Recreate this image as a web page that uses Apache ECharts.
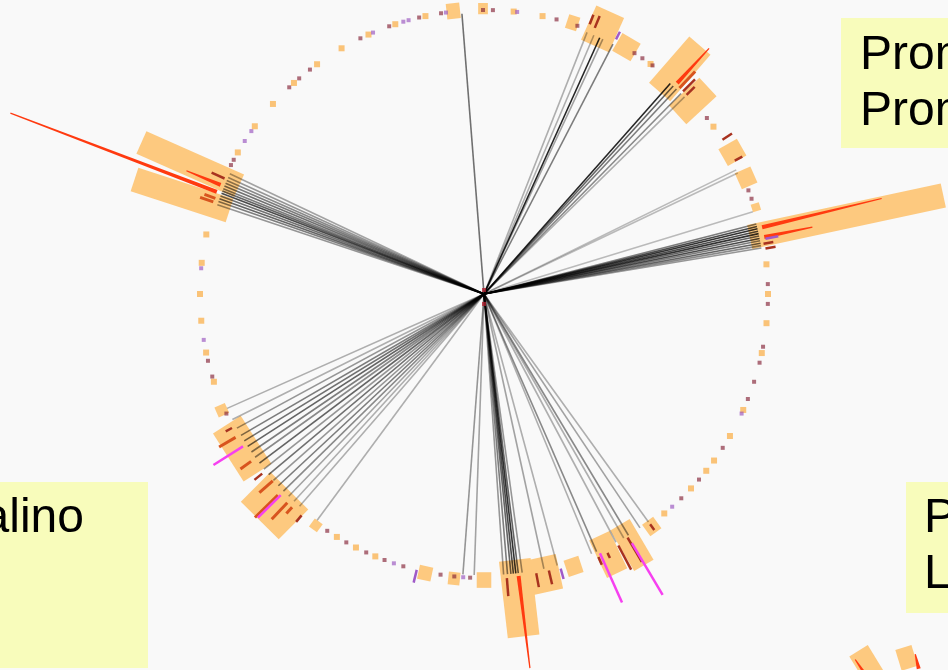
<!DOCTYPE html>
<html>
<head>
<meta charset="utf-8">
<script src="https://cdn.jsdelivr.net/npm/echarts@6/dist/echarts.min.js"></script>
<style>
  html, body { margin: 0; padding: 0; background: #f9f9f9; }
  #chart { width: 948px; height: 670px; }
</style>
</head>
<body>
<div id="chart"></div>
<script>
// Angles are degrees clockwise from the top of the ring; radial values are
// track units where 100 is the ring itself.

// Feature markers sitting on the ring: [angle, kind]
const ringDots = [
  [1.8, 'r'], [6.0, 'o'], [6.7, 'p'], [11.9, 'o'], [14.8, 'r'], [19.2, 'r'],
  [32.0, 'r'], [33.9, 'r'], [35.9, 'o'], [36.4, 'r'], [51.7, 'r'], [53.9, 'o'],
  [68.6, 'r'], [70.4, 'r'],
  [84.0, 'o'], [88.0, 'r'], [90.0, 'o'], [92.0, 'r'], [95.9, 'o'], [100.7, 'r'],
  [102.0, 'o'], [104.0, 'r'], [108.0, 'r'], [111.7, 'r'], [114.1, 'o'], [114.9, 'p'],
  [120.0, 'o'], [122.8, 'r'], [125.9, 'o'], [128.5, 'o'], [130.8, 'r'], [133.2, 'o'],
  [136.0, 'r'], [138.5, 'p'], [140.6, 'o'],
  [182.8, 'r'], [184.2, 'p'], [186.0, 'r'], [188.8, 'r'], [196.5, 'r'], [198.5, 'p'],
  [200.5, 'r'], [202.5, 'o'], [204.5, 'r'], [206.8, 'o'], [209.0, 'r'], [211.2, 'o'],
  [213.5, 'r'], [245.1, 'r'],
  [252.0, 'o'], [253.1, 'r'], [256.4, 'r'], [258.1, 'o'], [260.7, 'p'], [264.6, 'o'],
  [270.0, 'o'], [275.2, 'p'], [276.3, 'o'], [282.1, 'o'],
  [297.0, 'r'], [298.2, 'r'], [299.9, 'o'], [302.6, 'p'], [305.0, 'p'], [306.2, 'o'],
  [312.0, 'o'], [316.7, 'r'], [318.0, 'o'], [319.4, 'r'], [322.2, 'r'], [324.0, 'o'],
  [329.9, 'o'], [334.2, 'r'], [336.0, 'o'], [337.0, 'p'], [340.5, 'r'], [341.8, 'o'],
  [343.5, 'p'], [344.6, 'p'], [346.8, 'r'], [348.1, 'o'], [351.3, 'r'], [352.3, 'p'],
  [359.8, 'r']
];

// Highlighted regions: [startAngle, endAngle, innerRadius, outerRadius]
const regionBoxes = [
  [352.4, 355.2, 97.5, 103.0],
  [358.8, 360.8, 98.5, 102.5],
  [16.9, 19.3, 98.0, 103.0],
  [20.9, 27.3, 95.8, 109.0],
  [27.8, 32.2, 96.8, 104.0],
  [38.0, 44.0, 94.4, 116.0],
  [44.5, 50.0, 93.0, 107.5],
  [58.3, 62.3, 97.0, 104.5],
  [64.3, 67.9, 98.0, 104.0],
  [71.5, 73.1, 99.0, 102.0],
  [75.3, 80.5, 95.8, 165.5],
  [142.8, 145.6, 98.5, 103.5],
  [147.1, 151.9, 94.4, 111.0],
  [152.1, 156.9, 94.4, 109.0],
  [160.2, 163.4, 98.0, 104.0],
  [164.6, 171.0, 95.0, 107.4],
  [170.0, 176.8, 94.4, 121.5],
  [178.5, 181.5, 98.0, 103.5],
  [184.8, 187.2, 98.5, 103.0],
  [190.5, 193.3, 98.0, 103.0],
  [215.0, 217.0, 99.0, 102.5],
  [219.2, 230.2, 97.9, 112.7],
  [231.4, 243.4, 95.8, 107.4],
  [245.0, 247.2, 99.0, 103.0],
  [285.5, 290.8, 94.4, 129.6],
  [291.2, 296.5, 94.4, 132.0]
];

// Signal bars rising from the ring: [angle, innerRadius, outerRadius, kind]
const signalBars = [
  [21.4, 102.0, 105.6, 'dark'], [22.6, 101.5, 106.0, 'dark'], [27.4, 101.0, 104.0, 'purple'],
  [42.5, 100.7, 117.3, 'red'], [43.5, 100.0, 108.0, 'orange'], [44.5, 100.0, 106.0, 'dark'],
  [45.5, 100.0, 104.0, 'dark'],
  [57.1, 100.0, 104.0, 'dark'], [62.0, 100.0, 103.0, 'dark'],
  [76.5, 100.7, 144.0, 'red'], [78.5, 100.7, 118.0, 'red'], [78.9, 101.0, 105.6, 'purple'],
  [79.8, 100.0, 103.5, 'dark'], [80.8, 100.4, 104.0, 'dark'],
  [144.2, 100.0, 102.5, 'dark'], [149.5, 99.6, 109.5, 'dark'], [151.9, 100.4, 110.0, 'dark'],
  [154.5, 101.0, 103.0, 'dark'], [156.5, 101.0, 104.0, 'dark'],
  [149.3, 102.0, 123.2, 'magenta'], [155.9, 100.0, 119.0, 'magenta'],
  [164.4, 100.4, 104.2, 'purple'], [166.8, 100.0, 105.0, 'dark'], [169.4, 100.0, 105.0, 'dark'],
  [173.0, 100.0, 132.7, 'red'], [175.4, 100.4, 106.7, 'dark'], [193.7, 100.0, 104.6, 'purple'],
  [219.5, 101.0, 104.0, 'dark'], [222.0, 101.0, 104.0, 'orange'], [223.3, 101.0, 109.0, 'orange'],
  [225.7, 101.4, 112.7, 'orange'], [228.5, 99.3, 105.6, 'orange'], [231.0, 100.5, 104.0, 'dark'],
  [234.3, 101.0, 105.6, 'orange'], [240.0, 101.0, 107.7, 'orange'], [242.0, 100.5, 103.0, 'dark'],
  [237.7, 100.4, 112.7, 'magenta'], [225.3, 100.7, 112.0, 'magenta'],
  [288.8, 100.7, 105.6, 'orange'], [289.6, 100.4, 104.5, 'orange'], [294.0, 100.0, 105.0, 'dark'],
  [292.5, 100.4, 113.4, 'red'], [290.9, 100.7, 178.5, 'red']
];

// Links drawn from the hub out to the ring: [angle, opacity]
const links = [
  [355.5, 0.55],
  [21.5, 0.3], [23.0, 0.3], [24.3, 0.85], [25.0, 0.35], [27.3, 0.5],
  [41.5, 0.85], [42.3, 0.6], [43.2, 0.5], [44.5, 0.45], [45.5, 0.3],
  [63.8, 0.25], [64.5, 0.25], [73.0, 0.25],
  [75.6, 0.5], [76.1, 0.7], [76.6, 0.8], [77.1, 0.7], [77.6, 0.8], [78.1, 0.6],
  [78.6, 0.7], [79.1, 0.5], [79.6, 0.6], [80.1, 0.45], [80.6, 0.4],
  [144.2, 0.3], [146.3, 0.35], [149.1, 0.45], [150.2, 0.3], [152.0, 0.3], [156.4, 0.45],
  [157.5, 0.3], [164.9, 0.3], [167.7, 0.35], [172.2, 0.4], [173.0, 0.6], [173.5, 0.8],
  [174.0, 0.7], [174.5, 0.6], [175.2, 0.5], [176.0, 0.4], [182.0, 0.35], [184.3, 0.4],
  [216.4, 0.3], [221.0, 0.3], [222.5, 0.3], [224.0, 0.35], [225.5, 0.45], [227.0, 0.5],
  [228.5, 0.4], [230.0, 0.55], [231.5, 0.4], [233.0, 0.6], [234.5, 0.45], [235.8, 0.5],
  [237.2, 0.6], [238.5, 0.55], [239.8, 0.5], [241.5, 0.4], [243.5, 0.3], [246.0, 0.3],
  [288.5, 0.4], [289.2, 0.5], [289.8, 0.6], [290.4, 0.55], [291.0, 0.7], [291.5, 0.6],
  [292.0, 0.5], [292.6, 0.55], [293.2, 0.5], [293.8, 0.45], [294.5, 0.4], [295.3, 0.35]
];

// Hub markers: [radius, angle]
const hubPoints = [[1.4, 0], [3.5, 180]];

// Neighbouring ring, only its top-left edge is in view
const cornerBoxes = [
  [324.0, 333.0, 92.0, 117.0],
  [339.5, 346.5, 92.0, 106.5]
];
const cornerBars = [
  [326.0, 96.0, 113.0, 'red'],
  [346.6, 90.0, 100.0, 'red']
];

// Note boxes
const noteTopRight = ['Prom', 'Prom'];
const noteLeft = ['alino'];
const noteBottomRight = ['P', 'L'];

const RING = 100;
const LINK_END = 99;
const BOX_COLOR = '#fdc97f';
const dotStyles = {
  o: { color: 'rgba(250,170,60,0.85)', size: 6 },
  r: { color: 'rgba(130,30,50,0.8)', size: 4 },
  p: { color: 'rgba(150,80,190,0.8)', size: 4 }
};
const barStyles = {
  red: { color: '#ff3a10', width: 4, tip: 1.2, taper: true },
  orange: { color: '#d8541e', width: 3 },
  dark: { color: '#a8321f', width: 2.5 },
  purple: { color: '#a05ac8', width: 2.5 },
  magenta: { color: '#f640f0', width: 2.5 }
};

const chart = echarts.init(document.getElementById('chart'), null, { renderer: 'canvas' });

function boxShape(api, box) {
  const [a0, a1, r0, r1] = box;
  const mid = (a0 + a1) / 2;
  const c = api.coord([0, mid]);
  const p0 = api.coord([r0, a0]);
  const p1 = api.coord([r0, a1]);
  const pin = api.coord([r0, mid]);
  const pout = api.coord([r1, mid]);
  const rin = Math.hypot(pin[0] - c[0], pin[1] - c[1]);
  const ux = (pin[0] - c[0]) / rin, uy = (pin[1] - c[1]) / rin;
  const depth = Math.hypot(pout[0] - c[0], pout[1] - c[1]) - rin;
  return {
    type: 'polygon',
    shape: { points: [p0, p1, [p1[0] + ux * depth, p1[1] + uy * depth], [p0[0] + ux * depth, p0[1] + uy * depth]] },
    style: { fill: BOX_COLOR }
  };
}

function barShape(api, bar) {
  const [a, r0, r1, kind] = bar;
  const st = barStyles[kind];
  const s = api.coord([r0, a]);
  const e = api.coord([r1, a]);
  if (st.taper) {
    const dx = e[0] - s[0], dy = e[1] - s[1];
    const L = Math.hypot(dx, dy);
    const nx = -dy / L, ny = dx / L;
    const w0 = st.width / 2, w1 = st.tip / 2;
    return {
      type: 'polygon',
      shape: { points: [
        [s[0] + nx * w0, s[1] + ny * w0], [e[0] + nx * w1, e[1] + ny * w1],
        [e[0] - nx * w1, e[1] - ny * w1], [s[0] - nx * w0, s[1] - ny * w0]
      ] },
      style: { fill: st.color }
    };
  }
  return {
    type: 'line',
    shape: { x1: s[0], y1: s[1], x2: e[0], y2: e[1] },
    style: { stroke: st.color, lineWidth: st.width }
  };
}

function renderLink(params, api) {
  const [a, alpha] = links[params.dataIndex];
  const s = api.coord([0, a]);
  const e = api.coord([LINK_END, a]);
  return {
    type: 'line',
    shape: { x1: s[0], y1: s[1], x2: e[0], y2: e[1] },
    style: { stroke: 'rgba(0,0,0,' + alpha + ')', lineWidth: 1.6 }
  };
}

function noteText(lines, x, y, align) {
  return {
    type: 'text',
    x: x, y: y,
    style: {
      text: lines.join('\n'),
      font: '48px "Liberation Sans", Arial, sans-serif',
      fill: '#000',
      lineHeight: 56,
      align: align,
      verticalAlign: 'top'
    },
    z: 20
  };
}

chart.setOption({
  backgroundColor: '#f9f9f9',
  animation: false,
  polar: [
    { center: [484, 294], radius: 568 },
    { center: [950, 800], radius: 300 }
  ],
  angleAxis: [
    { polarIndex: 0, type: 'value', min: 0, max: 360, startAngle: 90, clockwise: true, show: false },
    { polarIndex: 1, type: 'value', min: 0, max: 360, startAngle: 90, clockwise: true, show: false }
  ],
  radiusAxis: [
    { polarIndex: 0, type: 'value', min: 0, max: 200, show: false },
    { polarIndex: 1, type: 'value', min: 0, max: 200, show: false }
  ],
  series: [
    {
      type: 'custom', coordinateSystem: 'polar', polarIndex: 0, z: 1, clip: false,
      data: regionBoxes.map(b => [b[2], b[0]]),
      renderItem: (params, api) => boxShape(api, regionBoxes[params.dataIndex])
    },
    {
      type: 'custom', coordinateSystem: 'polar', polarIndex: 0, z: 2, clip: false,
      data: links.map(l => [LINK_END, l[0]]),
      renderItem: renderLink
    },
    {
      type: 'scatter', coordinateSystem: 'polar', polarIndex: 0, z: 3, symbol: 'rect',
      data: ringDots.map(([a, k]) => ({
        value: [RING, a],
        symbolSize: dotStyles[k].size,
        itemStyle: { color: dotStyles[k].color }
      }))
    },
    {
      type: 'custom', coordinateSystem: 'polar', polarIndex: 0, z: 4, clip: false,
      data: signalBars.map(b => [b[1], b[0]]),
      renderItem: (params, api) => barShape(api, signalBars[params.dataIndex])
    },
    {
      type: 'scatter', coordinateSystem: 'polar', polarIndex: 0, z: 5, symbol: 'rect', symbolSize: 4,
      itemStyle: { color: '#b02030' },
      data: hubPoints
    },
    {
      type: 'custom', coordinateSystem: 'polar', polarIndex: 1, z: 1, clip: false,
      data: cornerBoxes.map(b => [b[2], b[0]]),
      renderItem: (params, api) => boxShape(api, cornerBoxes[params.dataIndex])
    },
    {
      type: 'custom', coordinateSystem: 'polar', polarIndex: 1, z: 4, clip: false,
      data: cornerBars.map(b => [b[1], b[0]]),
      renderItem: (params, api) => barShape(api, cornerBars[params.dataIndex])
    }
  ],
  graphic: [
    { type: 'rect', shape: { x: 841, y: 18, width: 120, height: 130 }, style: { fill: '#f8fcbb' }, z: 10 },
    noteText(noteTopRight, 860, 28, 'left'),
    { type: 'rect', shape: { x: -10, y: 482, width: 158, height: 186 }, style: { fill: '#f8fcbb' }, z: 10 },
    noteText(noteLeft, 84, 491, 'right'),
    { type: 'rect', shape: { x: 906, y: 482, width: 60, height: 131 }, style: { fill: '#f8fcbb' }, z: 10 },
    noteText(noteBottomRight, 924, 491, 'left')
  ]
});
</script>
</body>
</html>
